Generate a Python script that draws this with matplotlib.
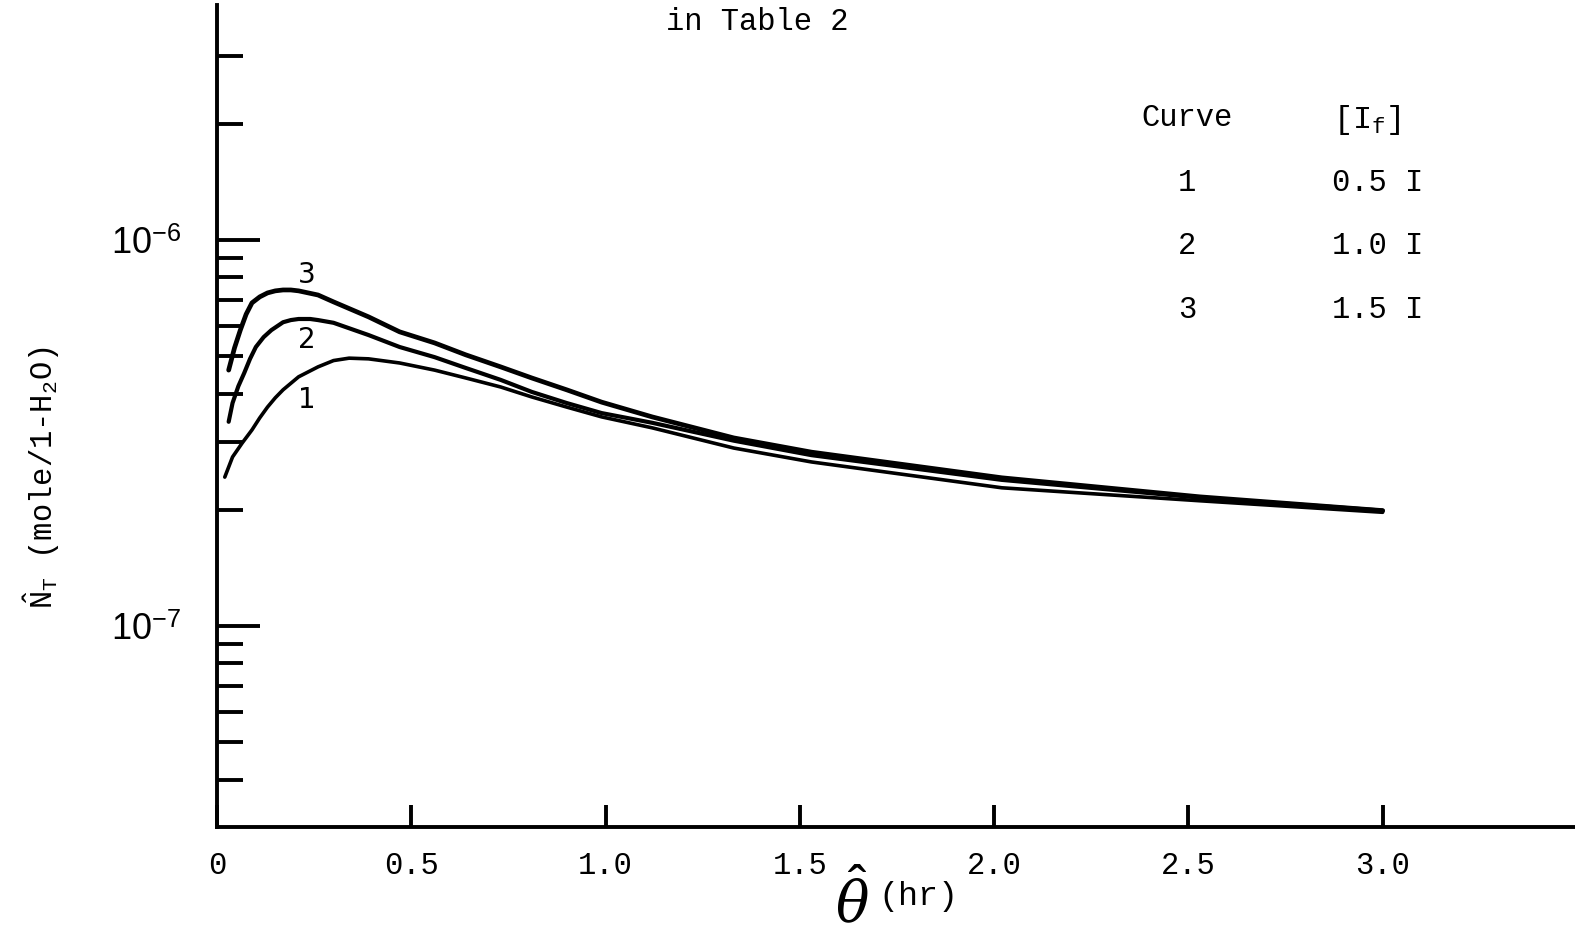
import matplotlib
matplotlib.use("Agg")
import matplotlib.pyplot as plt

# curve 3 : [I_f] = 1.5 I
x3 = [0.03, 0.045, 0.06, 0.075, 0.09, 0.11, 0.13, 0.15, 0.17, 0.19, 0.21, 0.26,
      0.30, 0.39, 0.47, 0.56, 0.64, 0.73, 0.81, 0.90, 0.99, 1.12, 1.33, 1.53,
      2.02, 2.53, 3.0]
y3 = [4.60e-7, 5.25e-7, 5.84e-7, 6.42e-7, 6.87e-7, 7.12e-7, 7.29e-7, 7.38e-7,
      7.42e-7, 7.42e-7, 7.38e-7, 7.20e-7, 6.91e-7, 6.32e-7, 5.78e-7, 5.41e-7,
      5.04e-7, 4.69e-7, 4.39e-7, 4.09e-7, 3.80e-7, 3.48e-7, 3.07e-7, 2.82e-7,
      2.42e-7, 2.16e-7, 1.99e-7]

# curve 2 : [I_f] = 1.0 I
x2 = [0.03, 0.04, 0.055, 0.07, 0.085, 0.10, 0.12, 0.14, 0.17, 0.19, 0.21, 0.24,
      0.26, 0.30, 0.39, 0.47, 0.56, 0.64, 0.73, 0.81, 0.90, 0.99, 1.12, 1.33,
      1.53, 2.02, 2.53, 3.0]
y2 = [3.38e-7, 3.78e-7, 4.18e-7, 4.52e-7, 4.92e-7, 5.28e-7, 5.60e-7, 5.84e-7,
      6.12e-7, 6.20e-7, 6.24e-7, 6.24e-7, 6.20e-7, 6.10e-7, 5.67e-7, 5.28e-7,
      4.97e-7, 4.66e-7, 4.34e-7, 4.04e-7, 3.78e-7, 3.56e-7, 3.36e-7, 3.02e-7,
      2.77e-7, 2.39e-7, 2.15e-7, 1.99e-7]

# curve 1 : [I_f] = 0.5 I
x1 = [0.02, 0.04, 0.065, 0.09, 0.11, 0.13, 0.15, 0.17, 0.21, 0.26, 0.30, 0.34,
      0.39, 0.47, 0.56, 0.64, 0.73, 0.81, 0.90, 0.99, 1.12, 1.33, 1.53, 2.02,
      2.53, 3.0]
y1 = [2.43e-7, 2.74e-7, 2.98e-7, 3.22e-7, 3.46e-7, 3.69e-7, 3.90e-7, 4.09e-7,
      4.42e-7, 4.69e-7, 4.87e-7, 4.94e-7, 4.92e-7, 4.80e-7, 4.60e-7, 4.39e-7,
      4.16e-7, 3.92e-7, 3.69e-7, 3.48e-7, 3.26e-7, 2.89e-7, 2.66e-7, 2.28e-7,
      2.11e-7, 1.97e-7]

curve_ids = ["1", "2", "3"]
curve_if = ["0.5 I", "1.0 I", "1.5 I"]

x_ticks = [0, 0.5, 1.0, 1.5, 2.0, 2.5, 3.0]
x_labels = ["0", "0.5", "1.0", "1.5", "2.0", "2.5", "3.0"]
y_major = [1e-7, 1e-6]
y_major_labels = [r"$10^{-7}$", r"$10^{-6}$"]
y_minor = [4e-8, 5e-8, 6e-8, 7e-8, 8e-8, 9e-8,
           2e-7, 3e-7, 4e-7, 5e-7, 6e-7, 7e-7, 8e-7, 9e-7,
           2e-6, 3e-6]

W, H = 1575, 942
MONO = "Liberation Mono"

plt.rcParams["mathtext.fontset"] = "custom"
plt.rcParams["mathtext.rm"] = "Liberation Sans"
plt.rcParams["mathtext.tt"] = MONO
plt.rcParams["mathtext.it"] = "DejaVu Serif:italic"


def px(x, y):
    # pixel position -> figure fraction
    return x / W, 1 - y / H


fig = plt.figure(figsize=(W / 100, H / 100), dpi=100)
ax = fig.add_axes([217 / W, 1 - 827 / H, 1 - 217 / W, (827 - 5) / H])

ax.plot(x1, y1, color="black", lw=2.6, solid_capstyle="round")
ax.plot(x2, y2, color="black", lw=3.0, solid_capstyle="round")
ax.plot(x3, y3, color="black", lw=3.4, solid_capstyle="round")

ax.set_yscale("log")
ax.set_xlim(0, 3.495)
ax.set_ylim(3.015e-8, 4.06e-6)

ax.spines["top"].set_visible(False)
ax.spines["right"].set_visible(False)
ax.spines["left"].set_linewidth(2.8)
ax.spines["bottom"].set_linewidth(2.8)

ax.set_xticks(x_ticks)
ax.set_xticklabels(x_labels, fontfamily=MONO, fontsize=22)
ax.set_yticks(y_major)
ax.set_yticklabels(y_major_labels, fontsize=26)
ax.set_yticks(y_minor, minor=True)
ax.yaxis.set_minor_formatter(plt.NullFormatter())

ax.tick_params(axis="x", direction="in", length=16, width=2.8, pad=17)
ax.tick_params(axis="y", which="major", direction="in", length=31, width=2.8, pad=26)
ax.tick_params(axis="y", which="minor", direction="in", length=19, width=2.8)

# curve numbers next to the peaks
ax.text(0.232, 8.1e-7, "3", fontsize=20, ha="center", va="center")
ax.text(0.232, 5.5e-7, "2", fontsize=20, ha="center", va="center")
ax.text(0.232, 3.86e-7, "1", fontsize=20, ha="center", va="center")

# table of curves
fig.text(*px(1187, 118), "Curve", fontfamily=MONO, fontsize=22, ha="center", va="center")
fig.text(*px(1333, 120), r"[I$_{\mathtt{f}}$]", fontfamily=MONO, fontsize=23, ha="left", va="center")
for cid, val, yy in zip(curve_ids, curve_if, [183, 246, 310]):
    fig.text(*px(1187, yy), cid, fontfamily=MONO, fontsize=22, ha="center", va="center")
    fig.text(*px(1332, yy), val, fontfamily=MONO, fontsize=22, ha="left", va="center")

fig.text(*px(757, 22), "in Table 2", fontfamily=MONO, fontsize=22, ha="center", va="center")

# axis titles
fig.text(*px(42, 478), r"$\hat{\mathtt{N}}_{\mathtt{T}}$ (mole/1-H$_{\mathtt{2}}$O)",
         fontfamily=MONO, fontsize=22, rotation=90, ha="center", va="center")
fig.text(*px(852, 903), r"$\hat{\theta}$", fontsize=40, ha="center", va="center")
fig.text(*px(878, 896), "(hr)", fontfamily=MONO, fontsize=24, ha="left", va="center")

fig.savefig("out.png", dpi=100)
